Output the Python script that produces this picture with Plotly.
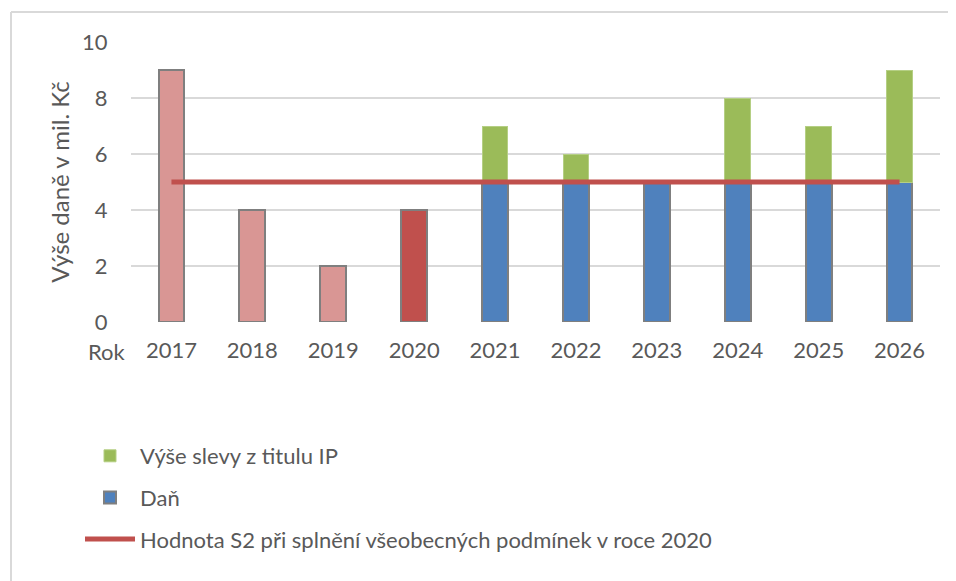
import plotly.graph_objects as go

years = ["2017", "2018", "2019", "2020", "2021", "2022", "2023", "2024", "2025", "2026"]
tax = [9, 4, 2, 4, 5, 5, 5, 5, 5, 5]
discount = [0, 0, 0, 0, 2, 1, 0, 3, 2, 4]
s2 = [5, 5, 5, 5, 5, 5, 5, 5, 5, 5]
history_colors = ["#D99694", "#D99694", "#D99694", "#C0504D"]

n_hist = 4
font_family = "Lato, 'Open Sans', sans-serif"
text_color = "#595959"

fig = go.Figure()

# historical bars (2017-2020) – part of the tax series, individually coloured
fig.add_trace(go.Bar(
    x=years[:n_hist], y=tax[:n_hist], name="Daň", showlegend=False,
    marker=dict(color=history_colors, line=dict(color="#7F7F7F", width=2)),
    width=0.32, hoverinfo="x+y",
))
# tax bars (2021-2026)
fig.add_trace(go.Bar(
    x=years[n_hist:], y=tax[n_hist:], name="Daň", legendrank=2, legendgroup="b",
    marker=dict(color="#4F81BD", line=dict(color="#7F7F7F", width=2)),
    width=0.32,
))
# discount on top
fig.add_trace(go.Bar(
    x=years[n_hist:], y=discount[n_hist:], name="Výše slevy z titulu IP", legendrank=1, legendgroup="a",
    marker=dict(color="#9BBB59", line=dict(color="#B5CF84", width=1)),
    width=0.32,
))
fig.add_trace(go.Scatter(
    x=years, y=s2, mode="lines", name="Hodnota S2 při splnění všeobecných podmínek v roce 2020",
    legendrank=3, legendgroup="c",
    line=dict(color="#C0504D", width=5),
))

# page body has an 8px margin, so work in page pixels minus 8
OFF = 8
W, H = 956 - OFF, 581 - OFF
L = 131 - OFF
T = 42 - OFF
R = W - (940 - OFF)
B = H - (322 - OFF)
pw, ph = W - L - R, H - T - B

def px_x(x):
    return (x - OFF - L) / pw

def px_y(y):
    return 1 - (y - OFF - T) / ph

fig.update_layout(
    width=W, height=H,
    margin=dict(l=L, r=R, t=T, b=B, autoexpand=False),
    barmode="stack",
    paper_bgcolor="white", plot_bgcolor="white",
    font=dict(family=font_family, size=22, color=text_color),
    showlegend=True,
    legend=dict(
        x=px_x(80), y=px_y(435), xanchor="left", yanchor="top",
        orientation="v", tracegroupgap=10, itemwidth=50,
        font=dict(size=22, color=text_color),
        bgcolor="rgba(0,0,0,0)",
    ),
    xaxis=dict(
        type="category", showgrid=False, showline=False, zeroline=False,
        ticks="outside", ticklen=9, tickcolor="rgba(0,0,0,0)",
        tickfont=dict(size=22, color=text_color),
    ),
    yaxis=dict(
        range=[0, 10], dtick=2, showgrid=True, gridcolor="#D9D9D9", gridwidth=2,
        zeroline=False, showline=False,
        ticks="outside", ticklen=18, tickcolor="rgba(0,0,0,0)",
        tickfont=dict(size=22, color=text_color),
        title=dict(text="Výše daně v mil. Kč", font=dict(size=24, color=text_color), standoff=5),
    ),
    annotations=[dict(
        text="Rok", xref="paper", yref="paper", x=px_x(107), y=px_y(351),
        xanchor="center", yanchor="middle", showarrow=False,
        font=dict(size=22, color=text_color),
    )],
    shapes=[
        dict(type="line", xref="paper", yref="paper", x0=px_x(11), y0=px_y(12), x1=px_x(970), y1=px_y(12),
             line=dict(color="#D9D9D9", width=2)),
        dict(type="line", xref="paper", yref="paper", x0=px_x(11), y0=px_y(12), x1=px_x(11), y1=px_y(600),
             line=dict(color="#D9D9D9", width=2)),
    ],
)

fig.write_html("out.html")
